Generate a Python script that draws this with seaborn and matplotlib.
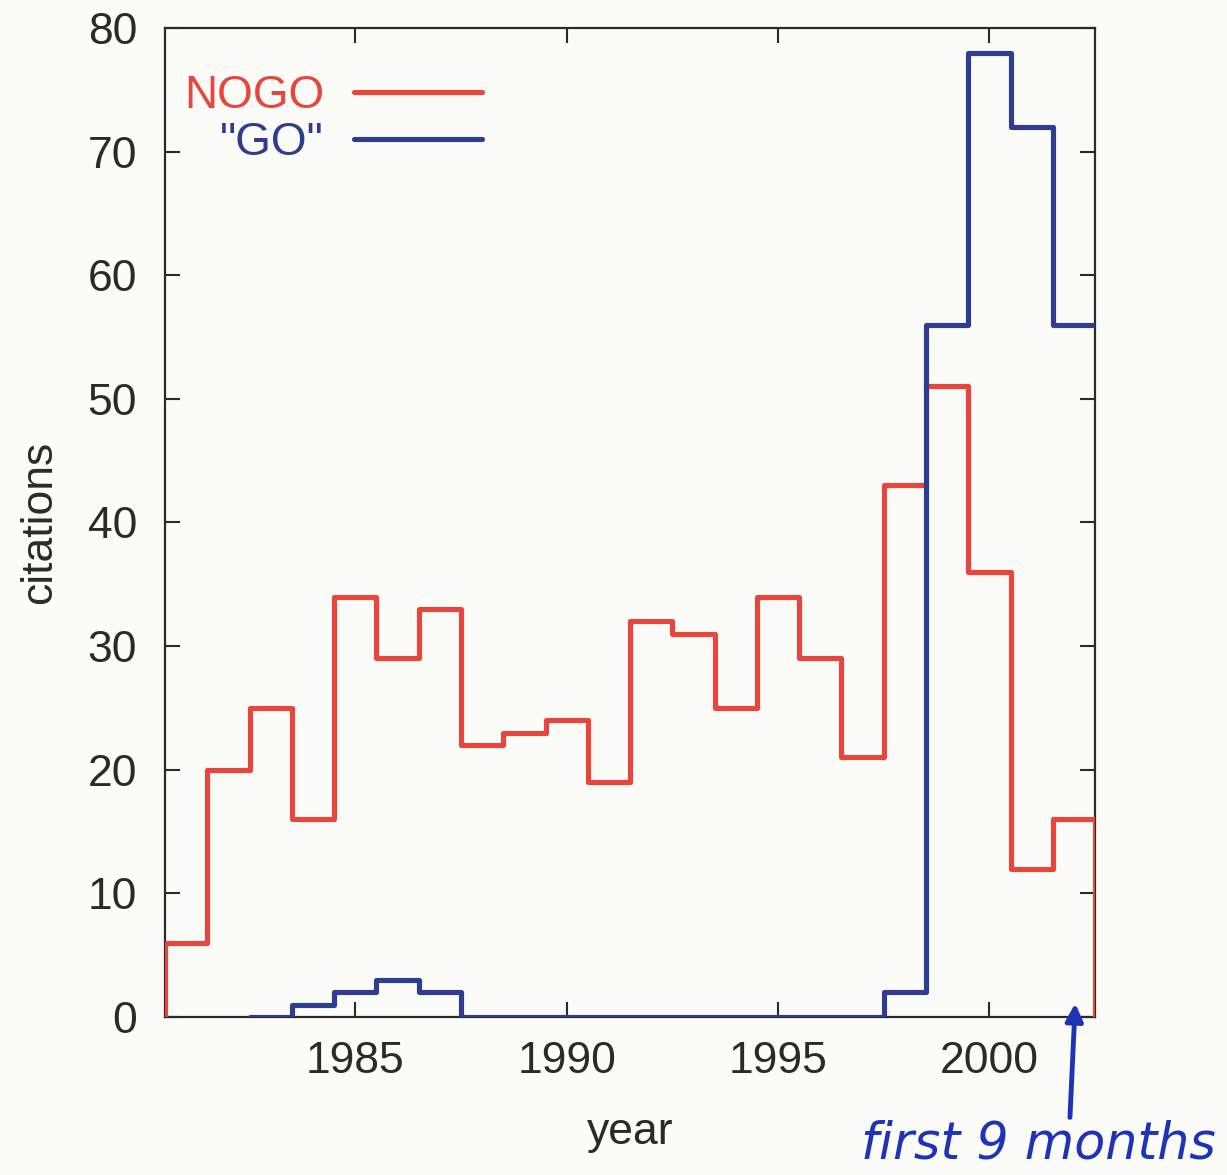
import numpy as np
import pandas as pd
import matplotlib
matplotlib.use("Agg")
import matplotlib.pyplot as plt
import seaborn as sns

# Citations per year (last year covers only the first nine months)
nogo_years = list(range(1981, 2003))
nogo_counts = [6, 20, 25, 16, 34, 29, 33, 22, 23, 24, 19,
               32, 31, 25, 34, 29, 21, 43, 51, 36, 12, 16]
go_years = list(range(1983, 2003))
go_counts = [0, 1, 2, 3, 2, 0, 0, 0, 0, 0,
             0, 0, 0, 0, 0, 2, 56, 78, 72, 56]

x_ticks = [1985, 1990, 1995, 2000]
y_ticks = list(range(0, 81, 10))

paper = "#fbfbf8"
ink = "#2a2a2a"
red = "#e8453c"
blue = "#2e3d92"
pen = "#1f33b8"
lw = 3.7

sns.set_theme(style="ticks")
plt.rcParams["font.family"] = ["Liberation Sans", "DejaVu Sans"]
plt.rcParams["axes.edgecolor"] = ink
plt.rcParams["text.color"] = ink

df_nogo = pd.DataFrame({"year": nogo_years, "citations": nogo_counts})
df_go = pd.DataFrame({"year": go_years, "citations": go_counts})

fig = plt.figure(figsize=(12.27, 11.75), dpi=100, facecolor=paper)
ax = fig.add_axes([0.1345, 0.1345, 0.758, 0.8417])
ax.set_facecolor(paper)

sns.histplot(data=df_nogo, x="year", weights="citations", discrete=True,
             element="step", fill=False, color=red, linewidth=lw,
             label="NOGO", zorder=3, ax=ax)
sns.histplot(data=df_go, x="year", weights="citations", discrete=True,
             element="step", fill=False, color=blue, linewidth=lw,
             label='"GO"', zorder=3, ax=ax)

# close the NOGO outline down to zero at both ends
ax.vlines([nogo_years[0] - 0.5, nogo_years[-1] + 0.5], 0,
          [nogo_counts[0], nogo_counts[-1]], color=red, linewidth=lw,
          zorder=3)

ax.set_xlim(1980.5, 2002.5)
ax.set_ylim(0, 80)
ax.set_xticks(x_ticks)
ax.set_yticks(y_ticks)
ax.tick_params(axis="both", direction="in", length=11, width=1.5,
               colors=ink, labelsize=32, top=True, right=True)
ax.tick_params(axis="x", pad=17)
ax.tick_params(axis="y", pad=20)
for s in ax.spines.values():
    s.set_linewidth(1.6)
    s.set_color(ink)

ax.set_xlabel("year", fontsize=32, labelpad=22, color=ink)
ax.set_ylabel("citations", fontsize=32, labelpad=20, color=ink)

leg = ax.legend(loc="upper right", bbox_to_anchor=(0.341, 0.953),
                frameon=False, markerfirst=False, handlelength=2.8,
                handletextpad=0.65, labelspacing=0.05, labelcolor="linecolor",
                borderpad=0, borderaxespad=0, fontsize=33)

# handwritten note on the partial last year
fig.text(0.846, 0.026, "first 9 months", ha="center", va="center",
         fontsize=36.5, fontstyle="italic",
         color=pen, family="DejaVu Sans")
ax.annotate("", xy=(2002.03, 1.1), xycoords="data",
            xytext=(0.872, 0.049), textcoords="figure fraction",
            arrowprops=dict(arrowstyle="-|>", color=pen, lw=3.5,
                            mutation_scale=26, shrinkA=0, shrinkB=0))

fig.savefig("out.png", dpi=100, facecolor=paper)
